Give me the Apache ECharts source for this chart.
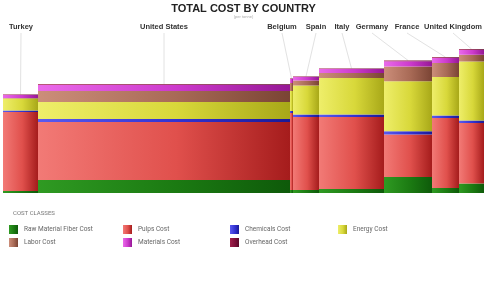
<!DOCTYPE html>
<html>
<head>
<meta charset="utf-8">
<script src="https://cdn.jsdelivr.net/npm/echarts@6/dist/echarts.min.js"></script>
<style>
html,body{margin:0;padding:0;background:#fff;}
#c{width:487px;height:285px;}
</style>
</head>
<body>
<div id="c"></div>
<script>
const categories = ['Turkey','United States','Belgium','Spain','Italy','Germany','France','United Kingdom'];
const widths = [3.5, 25.2, 0.3, 2.6, 6.5, 4.8, 2.7, 2.5];
const rawFiber = [10, 65, 15, 15, 20, 80, 25, 47];
const pulps = [395, 290, 385, 365, 360, 212, 350, 303];
const chemicals = [8, 15, 10, 12, 12, 17, 12, 13];
const energy = [60, 85, 100, 145, 183, 250, 193, 295];
const labor = [2, 55, 40, 25, 25, 73, 70, 33];
const materials = [15, 30, 20, 18, 20, 27, 25, 25];
const overhead = [3, 4, 3, 3, 3, 4, 4, 4];
const classNames = ['Raw Material Fiber Cost','Pulps Cost','Chemicals Cost','Energy Cost','Labor Cost','Materials Cost','Overhead Cost'];

const classValues = [rawFiber, pulps, chemicals, energy, labor, materials, overhead];
const classColors = [
  ['#2f9a22','#1b7a12','#0e5a0a'],
  ['#f27a76','#e0504c','#a51c1c'],
  ['#5a5af0','#3232d2','#1a1a96'],
  ['#eeee6a','#d8d83a','#a8a818'],
  ['#cc8e7a','#a86a56','#7a4434'],
  ['#ea6aea','#cc3acc','#961896'],
  ['#a0204a','#80103a','#5a0828']
];
const labelX = [21, 164, 282, 316, 342, 372, 407, 453];
const legendPos = [[9,225],[123,225],[230,225],[338,225],[9,238],[123,238],[230,238]];

function grad(c){
  return new echarts.graphic.LinearGradient(0,0,1,0,[
    {offset:0,color:c[0]},{offset:0.55,color:c[1]},{offset:1,color:c[2]}]);
}

const xStarts = [];
let acc = 0;
for (let i=0;i<widths.length;i++){ xStarts.push(acc); acc += widths[i]; }
const xTotal = acc;

const totals = categories.map((_,i)=>classValues.reduce((s,a)=>s+a[i],0));

const series = classNames.map((name,k)=>{
  const data = categories.map((cat,i)=>{
    let base = 0;
    for (let j=0;j<k;j++) base += classValues[j][i];
    return [xStarts[i], xStarts[i]+widths[i], base, base+classValues[k][i], i];
  });
  const g = grad(classColors[k]);
  return {
    type:'custom', name:name,
    itemStyle:{color:g},
    encode:{x:[0,1], y:[2,3]},
    data:data,
    renderItem:function(params, api){
      const p0 = api.coord([api.value(0), api.value(3)]);
      const p1 = api.coord([api.value(1), api.value(2)]);
      return {type:'rect', shape:{x:p0[0], y:p0[1], width:p1[0]-p0[0], height:p1[1]-p0[1]},
        style:{fill:grad(classColors[k])}};
    }
  };
});

const legends = classNames.map((name,k)=>({
  data:[name], left:legendPos[k][0], top:legendPos[k][1],
  orient:'horizontal', itemWidth:9, itemHeight:9, itemGap:0, padding:0,
  icon:'rect', selectedMode:false,
  textStyle:{fontSize:6.5, color:'#666', fontFamily:'Roboto, sans-serif', padding:[0,0,0,1]}
}));

const chart = echarts.init(document.getElementById('c'), null, {renderer:'canvas'});
chart.setOption({
  backgroundColor:'#ffffff',
  animation:false,
  title:{
    text:'TOTAL COST BY COUNTRY', subtext:'(per tonne)',
    left:'center', top:3, itemGap:1, padding:0,
    textStyle:{fontSize:11, fontWeight:'bold', color:'#222', fontFamily:'Liberation Sans, Arial, sans-serif'},
    subtextStyle:{fontSize:4, color:'#aaa'}
  },
  legend:legends,
  grid:{left:3, right:3, top:49, bottom:92},
  xAxis:{type:'value', min:0, max:xTotal, show:false},
  yAxis:{type:'value', min:0, max:720, show:false},
  series:series
});

const graphics = [];
graphics.push({type:'text', left:13, top:210, style:{text:'COST CLASSES', fontSize:6, fill:'#777', fontFamily:'Roboto, sans-serif'}});
categories.forEach((cat,i)=>{
  const top = chart.convertToPixel({gridIndex:0},[xStarts[i]+widths[i]/2, totals[i]]);
  graphics.push({type:'line', shape:{x1:labelX[i], y1:33, x2:top[0], y2:top[1]},
    style:{stroke:'#e2e2e2', lineWidth:1}, z:-1});
  graphics.push({type:'text', x:labelX[i], y:27, style:{text:cat, fontSize:7.5, fontWeight:'bold',
    fill:'#333', align:'center', verticalAlign:'middle', fontFamily:'Liberation Sans, Arial, sans-serif'}});
});
chart.setOption({graphic:graphics});
</script>
</body>
</html>
